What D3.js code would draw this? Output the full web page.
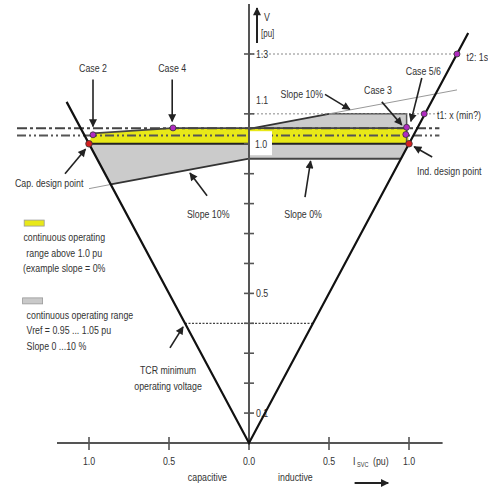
<!DOCTYPE html>
<html>
<head>
<meta charset="utf-8">
<script src="https://cdn.jsdelivr.net/npm/d3@7"></script>
<style>
  html, body { margin: 0; padding: 0; background: #fff; }
  svg text { font-family: "Liberation Sans", Arial, sans-serif; fill: #333; }
</style>
</head>
<body>
<svg id="chart" width="488" height="490"></svg>
<script>
// SVC current (pu, negative = capacitive) vs. voltage (pu)
const xTickValues = [-1.0, -0.5, 0.0, 0.5, 1.0];
const xTickLabels = ["1.0", "0.5", "0.0", "0.5", "1.0"];
const yTickValues = [0.1, 0.2, 0.3, 0.4, 0.5, 0.6, 0.7, 0.8, 0.9, 1.0, 1.1, 1.3];
const yTickLabels = { 0.1: "0.1", 0.5: "0.5", 1.1: "1.1", 1.3: "1.3" };

// V-I limit characteristic (capacitive and inductive branches)
const limitLine = [[-1.14, 1.14], [0, 0], [1.37, 1.37]];

// continuous operating range Vref 0.95 ... 1.05, slope 0 ... 10 %
const grayInductive = [[0, 1.05], [0.5, 1.1], [0.985, 1.1], [1.0, 1.0], [0.95, 0.95], [0, 0.95]];
const grayCapacitive = [[-1.0, 1.0], [0, 1.0], [0, 0.95], [-0.864, 0.864]];
// continuous operating range above 1.0 pu (slope 0 %)
const yellowBand = [[-0.98, 1.035], [-0.48, 1.052], [0.985, 1.052], [1.0, 1.0], [-1.0, 1.0]];

const slopeUpperBold = [[0, 1.05], [0.5, 1.1]];
const slopeUpperThin = [[0.5, 1.1], [1.3, 1.18]];
const slopeLowerBold = [[-0.864, 0.864], [0, 0.95]];
const slopeLowerThin = [[-1.0, 0.85], [-0.864, 0.864]];
const grayTopEdge = [[0.5, 1.1], [0.985, 1.1], [0.985, 1.0]];
const grayBottomEdge = [[0, 0.95], [0.95, 0.95]];
const yellowTopEdge = [[-0.98, 1.035], [-0.48, 1.052], [0.985, 1.052]];
const yellowBottomEdge = [[-1.0, 1.0], [1.0, 1.0]];

// reference voltage set lines
const refLineA = [[-1.45, 1.052], [1.19, 1.052]];
const refLineB = [[-1.45, 1.028], [1.19, 1.028]];

// dotted guide lines
const guideT2 = [[0, 1.3], [1.3, 1.3]];
const guideT1 = [[0, 1.1], [1.19, 1.1]];
const guideTcr = [[-0.4, 0.4], [0.4, 0.4]];

// operating cases
const caseMarkers = [[-0.975, 1.030], [-0.475, 1.053], [0.985, 1.055], [0.98, 1.031], [1.095, 1.1], [1.3, 1.3]];
const designPoints = [[-1.0, 1.0], [1.0, 1.0]];

// annotations: label position, optional arrow [from, to]
const annotations = [
  { text: ["Case 2"], at: [-0.975, 1.252], anchor: "middle", arrow: [[-0.975, 1.215], [-0.975, 1.058]] },
  { text: ["Case 4"], at: [-0.48, 1.252], anchor: "middle", arrow: [[-0.48, 1.215], [-0.48, 1.075]] },
  { text: ["Cap. design point"], at: [-1.035, 0.868], anchor: "end", arrow: [[-1.15, 0.9], [-1.022, 0.982]] },
  { text: ["Slope 10%"], at: [-0.255, 0.765], anchor: "middle", arrow: [[-0.262, 0.826], [-0.369, 0.902]] },
  { text: ["Slope 0%"], at: [0.338, 0.765], anchor: "middle", arrow: [[0.35, 0.822], [0.385, 0.942]] },
  { text: ["Slope 10%"], at: [0.33, 1.165], anchor: "middle", arrow: [[0.475, 1.165], [0.63, 1.115]] },
  { text: ["Case 3"], at: [0.806, 1.18], anchor: "middle", arrow: [[0.83, 1.14], [0.955, 1.063]] },
  { text: ["Case 5/6"], at: [1.09, 1.242], anchor: "middle", arrow: [[1.08, 1.22], [1.012, 1.075]] },
  { text: ["Ind. design point"], at: [1.05, 0.91], anchor: "start", arrow: [[1.145, 0.956], [1.032, 0.99]] },
  { text: ["t2: 1s"], at: [1.36, 1.29], anchor: "start" },
  { text: ["t1: x (min?)"], at: [1.175, 1.095], anchor: "start" },
  { text: ["TCR minimum", "operating voltage"], at: [-0.506, 0.245], anchor: "middle", arrow: [[-0.494, 0.318], [-0.412, 0.388]] }
];

const legendItems = [
  { swatch: "#e8e818", at: [-1.405, 0.745], lines: ["continuous operating", "range above 1.0 pu", "(example slope = 0%"], anchor: "middle" },
  { swatch: "#c9c9c9", at: [-1.415, 0.485], lines: ["continuous operating range", "Vref = 0.95  ... 1.05 pu", "Slope 0 ...10 %"], anchor: "start" }
];

const svg = d3.select("#chart");
const x = d3.scaleLinear().domain([-1.2, 1.2]).range([57, 441]);
const y = d3.scaleLinear().domain([0, 1.3]).range([443, 54]);
const line = d3.line().x(d => x(d[0])).y(d => y(d[1]));

// narrow lettering: each text is squeezed horizontally around its anchor point
const SQUEEZE = 0.8;
function label(px, py, s, anchor = "start", size = 11) {
  return svg.append("g").attr("transform", `translate(${px},${py}) scale(${SQUEEZE},1)`)
    .append("text").attr("text-anchor", anchor).attr("font-size", size).text(s);
}

const defs = svg.append("defs");
defs.append("marker").attr("id", "head")
  .attr("viewBox", "0 0 10 10").attr("refX", 9).attr("refY", 5)
  .attr("markerWidth", 9).attr("markerHeight", 8)
  .attr("markerUnits", "userSpaceOnUse").attr("orient", "auto")
  .append("path").attr("d", "M0,0 L10,5 L0,10 Z").attr("fill", "#222");

// operating areas
svg.append("path").attr("d", line(grayInductive) + "Z").attr("fill", "#cbcbcb");
svg.append("path").attr("d", line(grayCapacitive) + "Z").attr("fill", "#cbcbcb");
svg.append("path").attr("d", line(yellowBand) + "Z").attr("fill", "#e8e818");

// area borders and slope lines
const edge = (pts, w, c) => svg.append("path").attr("d", line(pts)).attr("fill", "none")
  .attr("stroke", c).attr("stroke-width", w);
edge(grayTopEdge, 1.5, "#555");
edge(grayBottomEdge, 1.8, "#444");
edge(slopeUpperBold, 1.8, "#333");
edge(slopeUpperThin, 1, "#999");
edge(slopeLowerBold, 1.8, "#333");
edge(slopeLowerThin, 1, "#999");
edge(yellowTopEdge, 1.8, "#444");
edge(yellowBottomEdge, 2.2, "#222");

// reference voltage lines
edge(refLineA, 2, "#444").attr("stroke-dasharray", "10,3,3,3");
edge(refLineB, 2, "#555").attr("stroke-dasharray", "9,3,2,3,2,3");

// dotted guides
edge(guideT2, 1, "#888").attr("stroke-dasharray", "2,2");
edge(guideT1, 1, "#888").attr("stroke-dasharray", "2,2");
edge(guideTcr, 1.2, "#444").attr("stroke-dasharray", "2,1.5");

// axes
const axisColor = "#555";
svg.append("line").attr("x1", x(-1.2)).attr("x2", x(1.21)).attr("y1", y(0)).attr("y2", y(0))
  .attr("stroke", axisColor).attr("stroke-width", 2);
svg.append("line").attr("x1", x(0)).attr("x2", x(0)).attr("y1", y(0)).attr("y2", 4)
  .attr("stroke", axisColor).attr("stroke-width", 2);

svg.selectAll(".xtick").data(xTickValues).enter().append("line")
  .attr("x1", d => x(d)).attr("x2", d => x(d)).attr("y1", y(0) - 6).attr("y2", y(0) + 7)
  .attr("stroke", axisColor).attr("stroke-width", 1.6);
xTickValues.forEach((d, i) => label(x(d), y(0) + 22, xTickLabels[i], "middle"));

svg.selectAll(".ytick").data(yTickValues).enter().append("line")
  .attr("x1", x(0) - 5).attr("x2", x(0) + 5).attr("y1", d => y(d)).attr("y2", d => y(d))
  .attr("stroke", axisColor).attr("stroke-width", 1.6);
Object.keys(yTickLabels).forEach(d =>
  label(x(0) + 7, y(+d) + (+d === 1.1 ? -10 : 4), yTickLabels[d]));

// boxed 1.0 label
svg.append("rect").attr("x", x(0) + 1).attr("y", y(1.042)).attr("width", 22).attr("height", 24).attr("fill", "#fff");
label(x(0) + 12, y(1.0) + 4, "1.0", "middle");

// V-I limit characteristic
svg.append("path").attr("d", line(limitLine)).attr("fill", "none")
  .attr("stroke", "#111").attr("stroke-width", 2.2);

// axis titles
svg.append("line").attr("x1", x(0.05)).attr("x2", x(0.05)).attr("y1", 43).attr("y2", 8)
  .attr("stroke", "#222").attr("stroke-width", 2).attr("marker-end", "url(#head)");
label(264, 21, "V");
label(261, 37, "[pu]", "start", 10);

label(x(-0.26), 481, "capacitive", "middle");
label(x(0.29), 481, "inductive", "middle");
// current axis title: I with subscript SVC, then unit
const ix = x(0.65);
label(ix, 465, "I");
label(ix + 4, 467, "SVC", "start", 7);
label(ix + 20, 465, "(pu)");
svg.append("line").attr("x1", x(0.66)).attr("x2", x(0.87)).attr("y1", 483).attr("y2", 483)
  .attr("stroke", "#222").attr("stroke-width", 2).attr("marker-end", "url(#head)");

// annotations
annotations.forEach(a => {
  if (a.arrow) {
    svg.append("path").attr("d", line(a.arrow)).attr("fill", "none")
      .attr("stroke", "#222").attr("stroke-width", 1.6).attr("marker-end", "url(#head)");
  }
  a.text.forEach((s, i) => label(x(a.at[0]), y(a.at[1]) + 4 + i * 16, s, a.anchor));
});

// markers
svg.selectAll(".case").data(caseMarkers).enter().append("circle")
  .attr("cx", d => x(d[0])).attr("cy", d => y(d[1])).attr("r", 3)
  .attr("fill", "#b02cc0").attr("stroke", "#333").attr("stroke-width", 0.8);
svg.selectAll(".design").data(designPoints).enter().append("circle")
  .attr("cx", d => x(d[0])).attr("cy", d => y(d[1])).attr("r", 3.3)
  .attr("fill", "#d42020").attr("stroke", "#333").attr("stroke-width", 0.8);

// legend
legendItems.forEach(item => {
  const lx = x(item.at[0]), ly = y(item.at[1]);
  svg.append("rect").attr("x", lx).attr("y", ly).attr("width", 20).attr("height", 6)
    .attr("fill", item.swatch).attr("stroke", "#999").attr("stroke-width", 0.8);
  const cx = item.anchor === "middle" ? lx + 40 : lx + 4;
  item.lines.forEach((s, i) => label(cx, ly + 21 + i * 15.5, s, item.anchor, 11));
});
</script>
</body>
</html>
